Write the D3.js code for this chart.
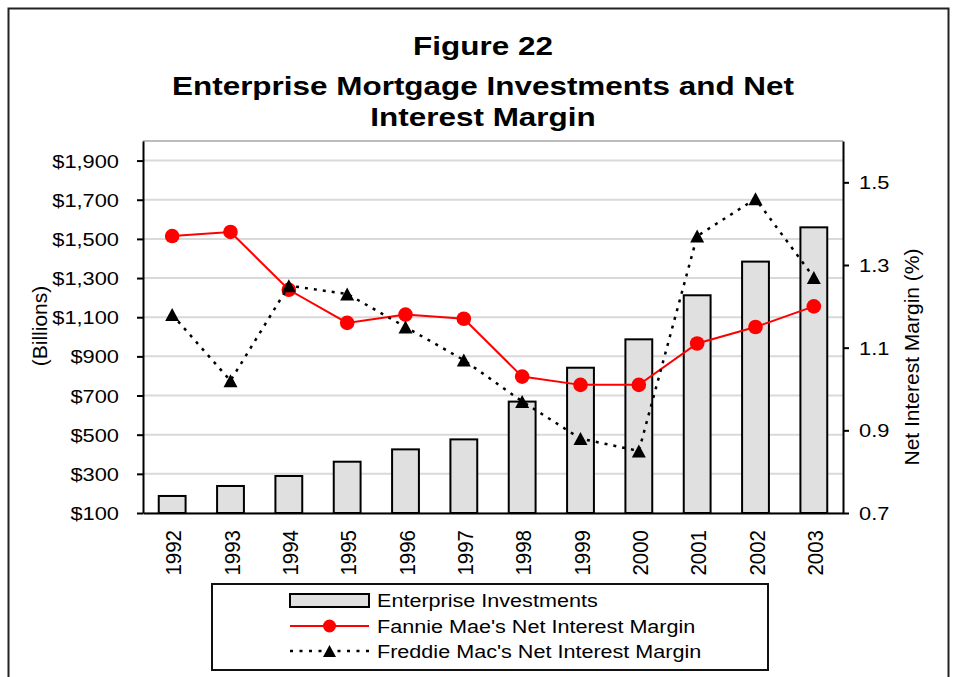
<!DOCTYPE html>
<html>
<head>
<meta charset="utf-8">
<script src="https://cdn.jsdelivr.net/npm/d3@7"></script>
<style>
  body { margin: 0; background: #fff; }
  svg { display: block; }
  text { font-family: "Liberation Sans", Arial, sans-serif; fill: #000; }
</style>
</head>
<body>
<svg id="chart" width="962" height="677"></svg>
<script>
// data
var years = ["1992", "1993", "1994", "1995", "1996", "1997", "1998", "1999", "2000", "2001", "2002", "2003"];
var investments = [187, 238, 289, 362, 425, 476, 669, 842, 987, 1212, 1384, 1559];
var fannieNim = [1.37, 1.38, 1.24, 1.16, 1.18, 1.17, 1.03, 1.01, 1.01, 1.11, 1.15, 1.20];
var freddieNim = [1.18, 1.02, 1.25, 1.23, 1.15, 1.07, 0.97, 0.88, 0.85, 1.37, 1.46, 1.27];
var leftTicks = [100, 300, 500, 700, 900, 1100, 1300, 1500, 1700, 1900];
var rightTicks = [0.7, 0.9, 1.1, 1.3, 1.5];
var titleLines = ["Figure 22", "Enterprise Mortgage Investments and Net", "Interest Margin"];
var legendLabels = ["Enterprise Investments", "Fannie Mae's Net Interest Margin", "Freddie Mac's Net Interest Margin"];

var svg = d3.select("#chart");

// plot area box
var pL = 143, pR = 843, pT = 141, pB = 513;
var sx = 1.18; // text in the figure is drawn a little wide

var x = d3.scaleBand().domain(years).range([pL, pR]).padding(0);
var yL = d3.scaleLinear().domain([100, 2000]).range([pB, pT]);
var yR = d3.scaleLinear().domain([0.7, 1.6]).range([pB, pT]);

var rows = years.map(function(y, i) {
  return {year: y, inv: investments[i], fannie: fannieNim[i], freddie: freddieNim[i]};
});

// outer border
svg.append("rect")
  .attr("x", 8.5).attr("y", 8.5).attr("width", 940).attr("height", 700)
  .attr("fill", "none").attr("stroke", "#222").attr("stroke-width", 2);

// title
svg.selectAll(".title")
  .data(titleLines)
  .enter()
  .append("text")
  .attr("class", "title")
  .attr("transform", function(d, i) { return "translate(483," + [55, 95, 126][i] + ") scale(1.21,1)"; })
  .attr("text-anchor", "middle")
  .attr("font-size", 26)
  .attr("font-weight", "bold")
  .text(function(d) { return d; });

// gridlines
svg.append("g")
  .selectAll("line")
  .data(leftTicks)
  .enter()
  .append("line")
  .attr("x1", pL).attr("x2", pR)
  .attr("y1", function(d) { return yL(d); })
  .attr("y2", function(d) { return yL(d); })
  .attr("stroke", "#d9d9d9").attr("stroke-width", 2);

svg.append("line")
  .attr("x1", pL).attr("x2", pR).attr("y1", pT).attr("y2", pT)
  .attr("stroke", "#a6a6a6").attr("stroke-width", 1.5);

// bars
var barW = x.bandwidth() * 0.46;
svg.append("g")
  .selectAll("rect")
  .data(rows)
  .enter()
  .append("rect")
  .attr("x", function(d) { return x(d.year) + (x.bandwidth() - barW) / 2; })
  .attr("y", function(d) { return yL(d.inv); })
  .attr("width", barW)
  .attr("height", function(d) { return yL(100) - yL(d.inv); })
  .attr("fill", "#e0e0e0")
  .attr("stroke", "#000")
  .attr("stroke-width", 2);

// axes
var axL = svg.append("g")
  .attr("transform", "translate(" + pL + ",0)")
  .call(d3.axisLeft(yL).tickValues(leftTicks).tickSize(6).tickSizeOuter(0)
    .tickFormat(function(d) { return "$" + d3.format(",")(d); }));
axL.selectAll("text")
  .attr("x", null).attr("dy", "0.35em")
  .attr("transform", "translate(-24,0) scale(" + sx + ",1)")
  .attr("font-size", 18.5);

var axR = svg.append("g")
  .attr("transform", "translate(" + pR + ",0)")
  .call(d3.axisRight(yR).tickValues(rightTicks).tickSize(6).tickSizeOuter(0)
    .tickFormat(d3.format(".1f")));
axR.selectAll("text")
  .attr("x", null).attr("dy", "0.35em")
  .attr("transform", "translate(16,0) scale(" + sx + ",1)")
  .attr("font-size", 18.5);

var axB = svg.append("g")
  .attr("transform", "translate(0," + pB + ")")
  .call(d3.axisBottom(x).tickSize(0).tickSizeOuter(0));
axB.selectAll("text")
  .attr("y", null).attr("x", null).attr("dy", "0.35em")
  .attr("text-anchor", "end")
  .attr("transform", "translate(1,17) scale(1.12,1) rotate(-90)")
  .attr("font-size", 20.5);

[axL, axR, axB].forEach(function(a) {
  a.attr("font-family", null).attr("font-size", null);
  a.selectAll("path, line").attr("stroke", "#000").attr("stroke-width", 2);
});

// axis titles
svg.append("text")
  .attr("transform", "translate(47,326) rotate(-90)")
  .attr("text-anchor", "middle")
  .attr("font-size", 21)
  .text("(Billions)");

svg.append("text")
  .attr("transform", "translate(919,357) rotate(-90)")
  .attr("text-anchor", "middle")
  .attr("font-size", 21)
  .text("Net Interest Margin (%)");

// lines + markers
var cx = function(d) { return x(d.year) + x.bandwidth() / 2; };
var tri = function(w, h) {
  return "M0," + (-h / 2) + "L" + (w / 2) + "," + (h / 2) + "L" + (-w / 2) + "," + (h / 2) + "Z";
};

svg.append("path")
  .datum(rows)
  .attr("fill", "none").attr("stroke", "#ff0000").attr("stroke-width", 2)
  .attr("d", d3.line().x(cx).y(function(d) { return yR(d.fannie); }));

svg.append("g")
  .selectAll("circle")
  .data(rows)
  .enter()
  .append("circle")
  .attr("cx", cx)
  .attr("cy", function(d) { return yR(d.fannie); })
  .attr("r", 7.3)
  .attr("fill", "#ff0000");

svg.append("path")
  .datum(rows)
  .attr("fill", "none").attr("stroke", "#000").attr("stroke-width", 2.5)
  .attr("stroke-dasharray", "3,6")
  .attr("d", d3.line().x(cx).y(function(d) { return yR(d.freddie); }));

svg.append("g")
  .selectAll("path")
  .data(rows)
  .enter()
  .append("path")
  .attr("transform", function(d) { return "translate(" + cx(d) + "," + yR(d.freddie) + ")"; })
  .attr("d", tri(14, 13))
  .attr("fill", "#000");

// legend
var lg = svg.append("g");
lg.append("rect")
  .attr("x", 212).attr("y", 584).attr("width", 556).attr("height", 86)
  .attr("fill", "#fff").attr("stroke", "#111").attr("stroke-width", 2);

var rowY = [600.5, 626, 651];
lg.append("rect")
  .attr("x", 290).attr("y", rowY[0] - 6.5).attr("width", 79).attr("height", 13)
  .attr("fill", "#e0e0e0").attr("stroke", "#000").attr("stroke-width", 2);
lg.append("line")
  .attr("x1", 290).attr("x2", 369).attr("y1", rowY[1]).attr("y2", rowY[1])
  .attr("stroke", "#ff0000").attr("stroke-width", 2);
lg.append("circle")
  .attr("cx", 329.5).attr("cy", rowY[1]).attr("r", 6.5).attr("fill", "#ff0000");
lg.append("line")
  .attr("x1", 290).attr("x2", 369).attr("y1", rowY[2]).attr("y2", rowY[2])
  .attr("stroke", "#000").attr("stroke-width", 2.5).attr("stroke-dasharray", "3,6.5");
lg.append("path")
  .attr("transform", "translate(329.5," + rowY[2] + ")")
  .attr("d", tri(13, 12)).attr("fill", "#000");

lg.selectAll("text")
  .data(legendLabels)
  .enter()
  .append("text")
  .attr("transform", function(d, i) { return "translate(377," + (rowY[i] + 6.5) + ") scale(" + sx + ",1)"; })
  .attr("font-size", 18.3)
  .text(function(d) { return d; });
</script>
</body>
</html>
